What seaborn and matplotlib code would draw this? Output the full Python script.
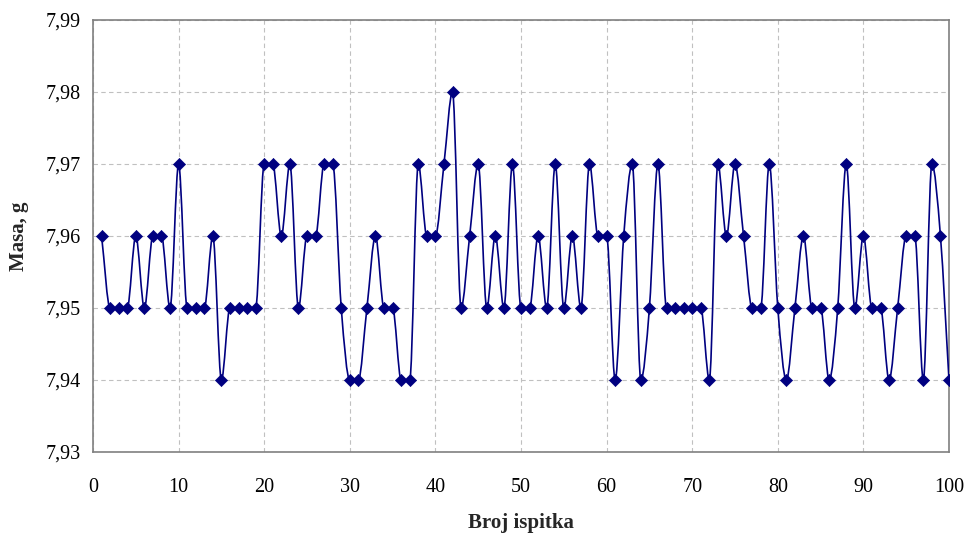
import numpy as np
import pandas as pd
import matplotlib
matplotlib.use('Agg')
import matplotlib.pyplot as plt
from matplotlib.path import Path
from matplotlib.patches import PathPatch
import seaborn as sns

# broj ispitka 1..100 and measured mass (g)
broj = list(range(1, 101))
masa = [7.96, 7.95, 7.95, 7.95, 7.96, 7.95, 7.96, 7.96, 7.95, 7.97,
        7.95, 7.95, 7.95, 7.96, 7.94, 7.95, 7.95, 7.95, 7.95, 7.97,
        7.97, 7.96, 7.97, 7.95, 7.96, 7.96, 7.97, 7.97, 7.95, 7.94,
        7.94, 7.95, 7.96, 7.95, 7.95, 7.94, 7.94, 7.97, 7.96, 7.96,
        7.97, 7.98, 7.95, 7.96, 7.97, 7.95, 7.96, 7.95, 7.97, 7.95,
        7.95, 7.96, 7.95, 7.97, 7.95, 7.96, 7.95, 7.97, 7.96, 7.96,
        7.94, 7.96, 7.97, 7.94, 7.95, 7.97, 7.95, 7.95, 7.95, 7.95,
        7.95, 7.94, 7.97, 7.96, 7.97, 7.96, 7.95, 7.95, 7.97, 7.95,
        7.94, 7.95, 7.96, 7.95, 7.95, 7.94, 7.95, 7.97, 7.95, 7.96,
        7.95, 7.95, 7.94, 7.95, 7.96, 7.96, 7.94, 7.97, 7.96, 7.94]
x_ticks = list(range(0, 101, 10))
y_ticks = [7.93, 7.94, 7.95, 7.96, 7.97, 7.98, 7.99]
y_labels = ['7,93', '7,94', '7,95', '7,96', '7,97', '7,98', '7,99']

df = pd.DataFrame({'Broj ispitka': broj, 'Masa': masa})

sns.set_style('white')
plt.rcParams['font.family'] = ['Liberation Serif', 'DejaVu Serif']

fig = plt.figure(figsize=(9.74, 5.35), dpi=100)
ax = fig.add_axes([93 / 974, 1 - 452 / 535, (949 - 93) / 974, (452 - 20) / 535])

navy = '#000080'

# smoothed line: monotone cubic bezier through the points (no overshoot)
x = df['Broj ispitka'].to_numpy(float)
y = df['Masa'].to_numpy(float)
d = np.diff(y) / np.diff(x)
m = np.zeros_like(y)
m[0], m[-1] = d[0], d[-1]
for i in range(1, len(y) - 1):
    if d[i - 1] * d[i] > 0:
        m[i] = (d[i - 1] + d[i]) / 2
verts = [(x[0], y[0])]
codes = [Path.MOVETO]
for i in range(len(x) - 1):
    h = x[i + 1] - x[i]
    verts += [(x[i] + h / 3, y[i] + m[i] * h / 3),
              (x[i + 1] - h / 3, y[i + 1] - m[i + 1] * h / 3),
              (x[i + 1], y[i + 1])]
    codes += [Path.CURVE4] * 3
ax.add_patch(PathPatch(Path(verts, codes), facecolor='none', edgecolor=navy, lw=1.2, zorder=3))

sns.scatterplot(data=df, x='Broj ispitka', y='Masa', marker='D', s=38,
                color=navy, edgecolor=navy, linewidth=0.5, ax=ax, zorder=4)

ax.set_xlim(0, 100)
ax.set_ylim(7.93, 7.99)
ax.set_xticks(x_ticks)
ax.set_yticks(y_ticks)
ax.set_yticklabels(y_labels)
ax.grid(True, color='#c0c0c0', linestyle=(0, (4, 3)), linewidth=0.8)
ax.set_axisbelow(True)
for s in ax.spines.values():
    s.set_color('#808080')
    s.set_linewidth(1.2)
ax.tick_params(axis='both', direction='out', length=7, width=0.8, color='#a0a0a0',
               labelsize=14.5, labelcolor='black')
ax.tick_params(axis='x', pad=12)
ax.tick_params(axis='y', pad=2)
ax.set_xlabel('Broj ispitka', fontsize=15, fontweight='bold', labelpad=11)
ax.set_ylabel('Masa, g', fontsize=15, fontweight='bold', labelpad=12)

fig.savefig('out.png', dpi=100)
